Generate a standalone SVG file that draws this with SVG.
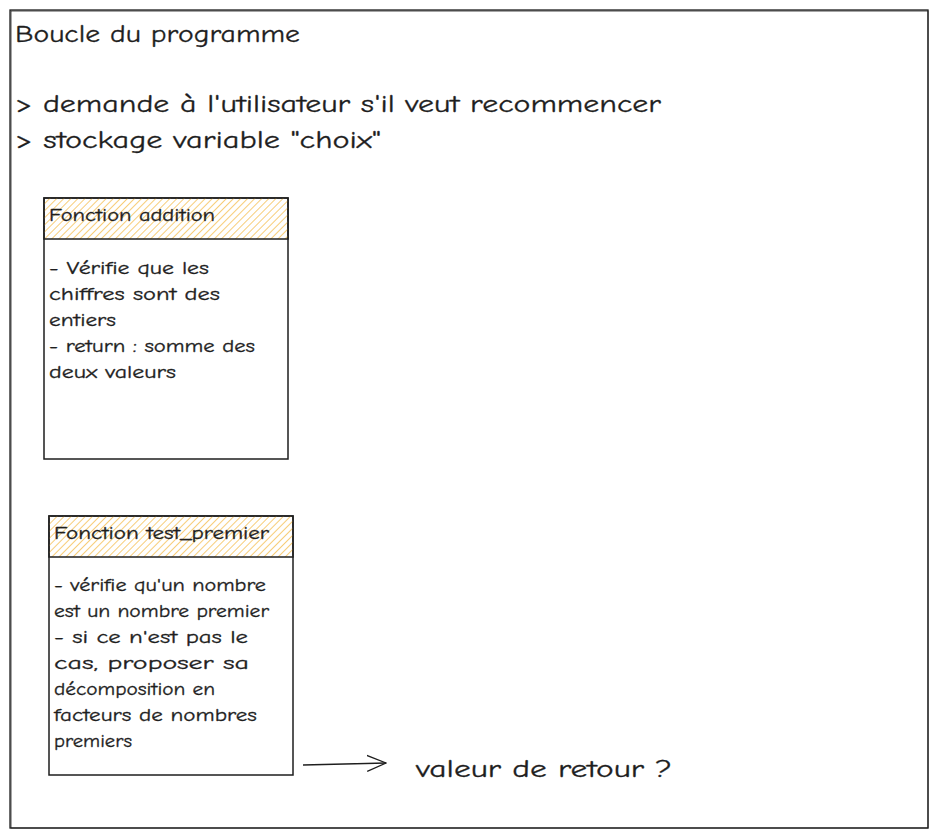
<svg xmlns="http://www.w3.org/2000/svg" width="938" height="838" viewBox="0 0 938 838">
<defs>
<pattern id="hatch" patternUnits="userSpaceOnUse" width="5" height="5" patternTransform="rotate(45)">
<line x1="0" y1="0" x2="0" y2="5" stroke="#f5c057" stroke-width="1.6"/>
</pattern>
<marker id="arr" viewBox="0 0 20 20" refX="19" refY="10" markerWidth="20" markerHeight="20" markerUnits="userSpaceOnUse" orient="auto">
<path d="M0,2 L19,10 L0,18" fill="none" stroke="#1e1e1e" stroke-width="1.3"/>
</marker>
<style>
.t{font-family:"Comic Neue","Liberation Sans",sans-serif;fill:#1e1e1e;stroke:#1e1e1e;stroke-width:0.3}
.big{font-size:25px}
.sm{font-size:18px}
.hd{font-size:17px}
.box{fill:#fff;stroke:#1e1e1e;stroke-width:1.5}
.frame{fill:#fff;stroke:#1e1e1e;stroke-width:1.3}
</style>
</defs>
<rect width="938" height="838" fill="#fff"/>
<g id="frame">
<rect class="frame" x="10" y="10" width="918" height="818"/>
<rect x="11" y="11" width="917" height="817" fill="none" stroke="#1e1e1e" stroke-width="0.8"/>
<text class="t big" x="15" y="42" textLength="285" lengthAdjust="spacingAndGlyphs">Boucle du programme</text>
<text class="t big" x="15" y="112" textLength="646" lengthAdjust="spacingAndGlyphs">&gt; demande à l'utilisateur s'il veut recommencer</text>
<text class="t big" x="15" y="148" textLength="366" lengthAdjust="spacingAndGlyphs">&gt; stockage variable "choix"</text>
</g>
<g id="addition">
<rect class="box" x="44" y="198" width="244" height="261"/>
<rect x="44" y="198" width="244" height="41" fill="url(#hatch)" stroke="#1e1e1e" stroke-width="1.5"/>
<text class="t hd" x="49" y="221" textLength="166" lengthAdjust="spacingAndGlyphs">Fonction addition</text>
<text class="t sm" x="49" y="274" textLength="160" lengthAdjust="spacingAndGlyphs">- Vérifie que les</text>
<text class="t sm" x="49" y="300" textLength="171" lengthAdjust="spacingAndGlyphs">chiffres sont des</text>
<text class="t sm" x="49" y="326" textLength="67" lengthAdjust="spacingAndGlyphs">entiers</text>
<text class="t sm" x="49" y="352" textLength="206" lengthAdjust="spacingAndGlyphs">- return : somme des</text>
<text class="t sm" x="49" y="378" textLength="127" lengthAdjust="spacingAndGlyphs">deux valeurs</text>
</g>
<g id="test_premier">
<rect class="box" x="49" y="516" width="244" height="259"/>
<rect x="49" y="516" width="244" height="41" fill="url(#hatch)" stroke="#1e1e1e" stroke-width="1.5"/>
<text class="t hd" x="54" y="539" textLength="215" lengthAdjust="spacingAndGlyphs">Fonction test_premier</text>
<text class="t sm" x="54" y="591" textLength="212" lengthAdjust="spacingAndGlyphs">- vérifie qu'un nombre</text>
<text class="t sm" x="54" y="617" textLength="215" lengthAdjust="spacingAndGlyphs">est un nombre premier</text>
<text class="t sm" x="54" y="643" textLength="194" lengthAdjust="spacingAndGlyphs">- si ce n'est pas le</text>
<text class="t sm" x="54" y="669" textLength="195" lengthAdjust="spacingAndGlyphs">cas, proposer sa</text>
<text class="t sm" x="54" y="695" textLength="161" lengthAdjust="spacingAndGlyphs">décomposition en</text>
<text class="t sm" x="54" y="721" textLength="203" lengthAdjust="spacingAndGlyphs">facteurs de nombres</text>
<text class="t sm" x="54" y="747" textLength="78" lengthAdjust="spacingAndGlyphs">premiers</text>
</g>
<g id="connectors">
<path d="M303,765 L386,763" fill="none" stroke="#1e1e1e" stroke-width="1.3" marker-end="url(#arr)"/>
</g>
<g id="retour">
<text class="t big" x="416" y="777" textLength="256" lengthAdjust="spacingAndGlyphs">valeur de retour ?</text>
</g>
</svg>
